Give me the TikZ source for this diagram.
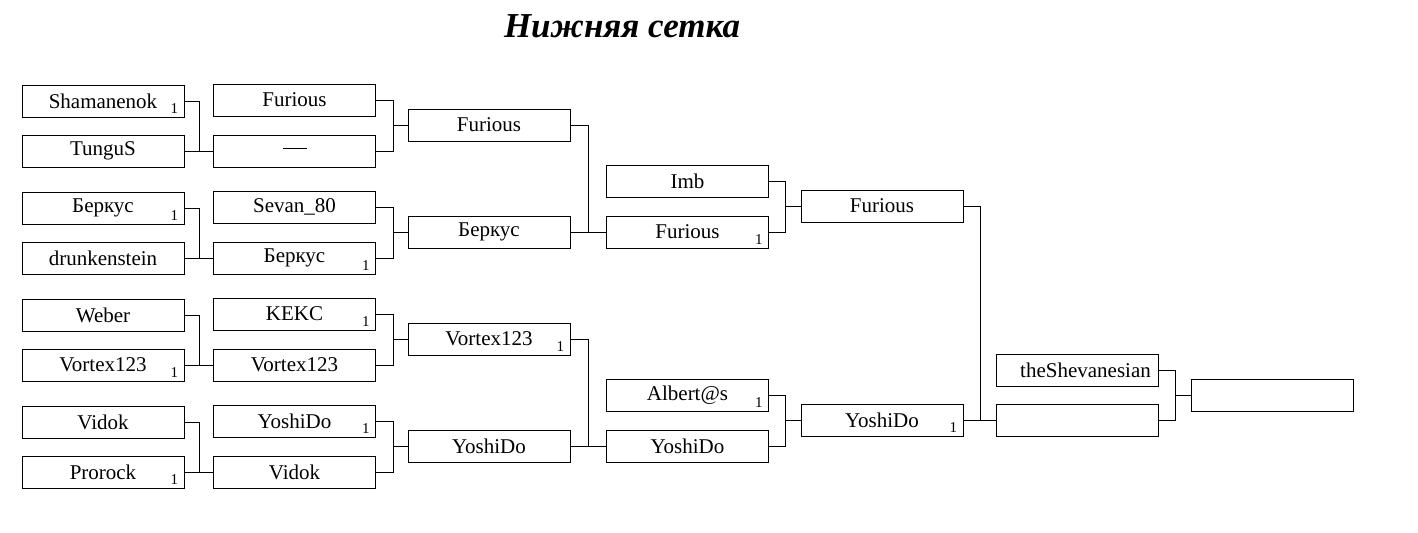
\documentclass[tikz,border=0pt]{standalone}
\usepackage{fontspec}
\setmainfont{Liberation Serif}
\tikzset{
  team/.style={draw, minimum width=81pt, minimum height=16pt, inner sep=0pt, font=\fontsize{10.5}{12}\selectfont},
  won/.style={anchor=south east, inner sep=0pt, xshift=-3pt, yshift=2pt, font=\fontsize{7.5}{8}\selectfont},
  headline/.style={font=\fontsize{17.5}{20}\selectfont\bfseries\itshape}
}
\begin{document}
\begin{tikzpicture}[x=0.5pt,y=-0.5pt,line width=0.5pt]
\useasboundingbox (0,0) rectangle (1418,532);
\node[headline] (title) at (622,26) {Нижняя сетка};
\node[team] (a1) at (103,101) {Shamanenok};
\node[team] (a2) at (103,151) {TunguS};
\node[team] (a3) at (103,208) {Беркус};
\node[team] (a4) at (103,258) {drunkenstein};
\node[team] (a5) at (103,315) {Weber};
\node[team] (a6) at (103,365) {Vortex123};
\node[team] (a7) at (103,422) {Vidok};
\node[team] (a8) at (103,472) {Prorock};
\node[team] (b1) at (294.5,100) {Furious};
\node[team] (b2) at (294.5,151) {\rule[3pt]{12pt}{0.5pt}};
\node[team] (b3) at (294.5,207) {Sevan\_80};
\node[team] (b4) at (294.5,258) {Беркус};
\node[team] (b5) at (294.5,314) {KEKC};
\node[team] (b6) at (294.5,365) {Vortex123};
\node[team] (b7) at (294.5,421) {YoshiDo};
\node[team] (b8) at (294.5,472) {Vidok};
\node[team] (c1) at (489,125) {Furious};
\node[team] (c2) at (489,232) {Беркус};
\node[team] (c3) at (489,339) {Vortex123};
\node[team] (c4) at (489,446) {YoshiDo};
\node[team] (d1) at (687.5,181) {Imb};
\node[team] (d2) at (687.5,232) {Furious};
\node[team] (d3) at (687.5,395) {Albert@s};
\node[team] (d4) at (687.5,446) {YoshiDo};
\node[team] (e1) at (882,206) {Furious};
\node[team] (e2) at (882,420) {YoshiDo};
\node[team] (f1) at (1077.5,370) {\hspace{8pt}theShevanesian};
\node[team] (f2) at (1077.5,420) {};
\node[team] (g) at (1272,395) {};
\node[won] (a1w) at (a1.south east) {1};
\node[won] (a3w) at (a3.south east) {1};
\node[won] (a6w) at (a6.south east) {1};
\node[won] (a8w) at (a8.south east) {1};
\node[won] (b4w) at (b4.south east) {1};
\node[won] (b5w) at (b5.south east) {1};
\node[won] (b7w) at (b7.south east) {1};
\node[won] (c3w) at (c3.south east) {1};
\node[won] (d2w) at (d2.south east) {1};
\node[won] (d3w) at (d3.south east) {1};
\node[won] (e2w) at (e2.south east) {1};
\draw (a1.east) -- ++(15,0) |- (a2.east);
\draw (a2.east) -- (b2.west);
\draw (a3.east) -- ++(15,0) |- (a4.east);
\draw (a4.east) -- (b4.west);
\draw (a5.east) -- ++(15,0) |- (a6.east);
\draw (a6.east) -- (b6.west);
\draw (a7.east) -- ++(15,0) |- (a8.east);
\draw (a8.east) -- (b8.west);
\draw (b1.east) -- ++(17,0) |- (b2.east);
\draw (c1.west) -- ++(-15,0);
\draw (b3.east) -- ++(17,0) |- (b4.east);
\draw (c2.west) -- ++(-15,0);
\draw (b5.east) -- ++(17,0) |- (b6.east);
\draw (c3.west) -- ++(-15,0);
\draw (b7.east) -- ++(17,0) |- (b8.east);
\draw (c4.west) -- ++(-15,0);
\draw (c1.east) -- ++(18,0) |- (c2.east);
\draw (c2.east) -- (d2.west);
\draw (c3.east) -- ++(18,0) |- (c4.east);
\draw (c4.east) -- (d4.west);
\draw (d1.east) -- ++(16,0) |- (d2.east);
\draw (e1.west) -- ++(-16,0);
\draw (d3.east) -- ++(16,0) |- (d4.east);
\draw (e2.west) -- ++(-16,0);
\draw (e1.east) -- ++(17,0) |- (e2.east);
\draw (e2.east) -- (f2.west);
\draw (f1.east) -- ++(16,0) |- (f2.east);
\draw (g.west) -- ++(-16,0);
\end{tikzpicture}
\end{document}
